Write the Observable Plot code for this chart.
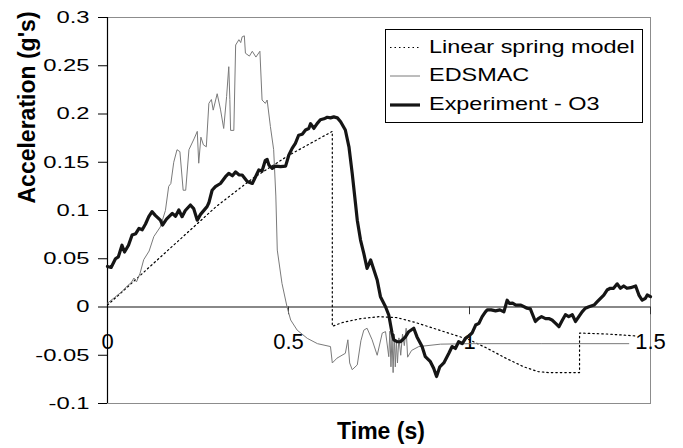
<!DOCTYPE html>
<html>
<head>
<meta charset="utf-8">
<script src="https://cdn.jsdelivr.net/npm/d3@7"></script>
<script src="https://cdn.jsdelivr.net/npm/@observablehq/plot@0.6"></script>
<style>
  body { margin: 0; background: #fff; }
  #wrap { position: relative; width: 683px; height: 448px; font-family: "Liberation Sans", Arial, sans-serif; }
  #legend { position: absolute; left: 385px; top: 29px; width: 256px; height: 92px; border: 1px solid #000; background: #fff; }
  .row { position: absolute; left: 0; height: 24px; width: 256px; }
  .row svg { position: absolute; left: 4px; top: 0; }
  .row span { position: absolute; left: 43px; top: 0; line-height: 24px; font-size: 18.6px; color: #000; white-space: nowrap; transform: scaleX(1.26); transform-origin: 0 50%; }
</style>
</head>
<body>
<div id="wrap"></div>
<script>
// ---- Data ----
const seriesNames = ["Linear spring model", "EDSMAC", "Experiment - O3"];
const xTicks = [0, 0.5, 1, 1.5];
const yTicks = [-0.1, -0.05, 0, 0.05, 0.1, 0.15, 0.2, 0.25, 0.3];

const linT = [0, 0.1, 0.2, 0.3, 0.4, 0.5, 0.621, 0.621, 0.65, 0.70, 0.75, 0.80, 0.85, 0.90, 0.95, 1.00, 1.05, 1.10, 1.15, 1.19, 1.22, 1.26, 1.304, 1.304, 1.38, 1.46];
const linV = [0.002, 0.036, 0.070, 0.104, 0.133, 0.157, 0.182, -0.020, -0.016, -0.012, -0.010, -0.011, -0.016, -0.022, -0.028, -0.034, -0.043, -0.053, -0.062, -0.067, -0.068, -0.068, -0.068, -0.027, -0.028, -0.030];

const edsT = [0, 0.02, 0.04, 0.055, 0.065, 0.073, 0.080, 0.09, 0.10, 0.115, 0.128, 0.146, 0.160, 0.169, 0.175, 0.183, 0.192, 0.200, 0.209, 0.216, 0.225, 0.240, 0.248, 0.252, 0.258, 0.265, 0.273, 0.280, 0.287, 0.292, 0.303, 0.312, 0.321, 0.329, 0.335, 0.338, 0.340, 0.349, 0.354, 0.363, 0.368, 0.372, 0.378, 0.381, 0.392, 0.400, 0.410, 0.421, 0.427, 0.436, 0.441, 0.450, 0.459, 0.465, 0.469, 0.482, 0.496, 0.506, 0.524, 0.552, 0.580, 0.616, 0.621, 0.634, 0.657, 0.664, 0.669, 0.676, 0.690, 0.700, 0.708, 0.717, 0.731, 0.745, 0.759, 0.768, 0.777, 0.780, 0.783, 0.786, 0.789, 0.792, 0.795, 0.798, 0.801, 0.805, 0.810, 0.815, 0.820, 0.825, 0.829, 0.840, 0.86, 0.92, 1.0, 1.2, 1.44];
const edsV = [0.004, 0.010, 0.016, 0.022, 0.025, 0.030, 0.026, 0.035, 0.049, 0.058, 0.073, 0.083, 0.100, 0.125, 0.128, 0.150, 0.163, 0.161, 0.121, 0.121, 0.163, 0.175, 0.182, 0.149, 0.176, 0.168, 0.166, 0.211, 0.215, 0.204, 0.221, 0.205, 0.185, 0.218, 0.249, 0.215, 0.183, 0.183, 0.2715, 0.277, 0.274, 0.280, 0.281, 0.263, 0.260, 0.265, 0.259, 0.265, 0.2145, 0.211, 0.2145, 0.187, 0.163, 0.115, 0.059, 0.0245, 0.0, -0.0135, -0.024, -0.0325, -0.038, -0.041, -0.058, -0.053, -0.048, -0.034, -0.058, -0.065, -0.060, -0.035, -0.024, -0.022, -0.034, -0.050, -0.027, -0.0255, -0.0515, -0.025, -0.062, -0.030, -0.068, -0.028, -0.062, -0.035, -0.058, -0.032, -0.050, -0.028, -0.040, -0.022, -0.052, -0.045, -0.041, -0.0385, -0.038, -0.038, -0.038];

const expT = [0, 0.01, 0.022, 0.030, 0.040, 0.047, 0.058, 0.068, 0.078, 0.087, 0.096, 0.105, 0.114, 0.123, 0.132, 0.146, 0.152, 0.163, 0.179, 0.188, 0.197, 0.206, 0.215, 0.229, 0.238, 0.248, 0.257, 0.275, 0.280, 0.289, 0.298, 0.312, 0.326, 0.335, 0.345, 0.354, 0.363, 0.372, 0.386, 0.400, 0.409, 0.418, 0.427, 0.436, 0.441, 0.446, 0.455, 0.464, 0.478, 0.492, 0.501, 0.510, 0.519, 0.528, 0.538, 0.547, 0.556, 0.561, 0.570, 0.579, 0.588, 0.598, 0.607, 0.616, 0.625, 0.635, 0.644, 0.657, 0.667, 0.676, 0.685, 0.690, 0.699, 0.708, 0.717, 0.727, 0.736, 0.745, 0.754, 0.768, 0.777, 0.786, 0.791, 0.800, 0.809, 0.815, 0.823, 0.832, 0.846, 0.855, 0.869, 0.878, 0.892, 0.901, 0.909, 0.918, 0.929, 0.943, 0.952, 0.961, 0.970, 0.980, 0.989, 0.998, 1.007, 1.017, 1.026, 1.035, 1.044, 1.049, 1.060, 1.072, 1.084, 1.095, 1.104, 1.110, 1.119, 1.128, 1.142, 1.159, 1.168, 1.182, 1.190, 1.199, 1.210, 1.219, 1.228, 1.238, 1.247, 1.256, 1.265, 1.274, 1.284, 1.293, 1.302, 1.311, 1.320, 1.330, 1.344, 1.353, 1.362, 1.371, 1.380, 1.389, 1.398, 1.408, 1.417, 1.426, 1.435, 1.445, 1.459, 1.468, 1.477, 1.486, 1.491, 1.500];
const expV = [0.042, 0.041, 0.050, 0.052, 0.064, 0.057, 0.064, 0.0746, 0.076, 0.0815, 0.080, 0.086, 0.0936, 0.0988, 0.095, 0.090, 0.085, 0.091, 0.097, 0.094, 0.1005, 0.0936, 0.100, 0.1057, 0.102, 0.090, 0.096, 0.104, 0.108, 0.121, 0.1247, 0.128, 0.135, 0.1385, 0.136, 0.140, 0.137, 0.1368, 0.130, 0.128, 0.135, 0.142, 0.141, 0.152, 0.153, 0.147, 0.1437, 0.146, 0.1454, 0.146, 0.1575, 0.1644, 0.1696, 0.178, 0.179, 0.1834, 0.185, 0.190, 0.185, 0.190, 0.194, 0.195, 0.1966, 0.196, 0.197, 0.196, 0.192, 0.1834, 0.166, 0.1385, 0.1075, 0.090, 0.0694, 0.0556, 0.040, 0.0487, 0.0383, 0.028, 0.0107, 0.0003, -0.0083, -0.027, -0.034, -0.036, -0.036, -0.034, -0.031, -0.0256, -0.022, -0.031, -0.041, -0.0515, -0.0567, -0.0635, -0.072, -0.062, -0.058, -0.048, -0.041, -0.043, -0.036, -0.038, -0.0325, -0.030, -0.027, -0.0187, -0.017, -0.010, -0.005, -0.003, -0.003, -0.004, -0.003, -0.005, 0.007, 0.0038, 0.004, 0.002, 0.002, -0.0013, -0.002, -0.015, -0.012, -0.010, -0.012, -0.012, -0.0135, -0.017, -0.0204, -0.014, -0.008, -0.010, -0.008, -0.015, -0.010, -0.005, -0.0013, 0.0003, 0.002, 0.0055, 0.009, 0.0124, 0.0176, 0.0194, 0.0194, 0.024, 0.0194, 0.0218, 0.0194, 0.020, 0.0218, 0.0124, 0.007, 0.009, 0.0124, 0.0107];

const xTitle = "Time (s)";
const yTitle = "Acceleration (g's)";

// ---- Build ----
const toRows = (T, V) => T.map((t, i) => ({t, v: V[i]}));
const lin = toRows(linT, linV);
const eds = toRows(edsT, edsV);
const exp = toRows(expT, expV);
const font = "'Liberation Sans', Arial, sans-serif";

const svg = Plot.plot({
  width: 683,
  height: 448,
  marginLeft: 107,
  marginRight: 33,
  marginTop: 17,
  marginBottom: 45,
  style: {fontFamily: font, background: "#fff", color: "#000"},
  x: {domain: [0, 1.5], axis: null},
  y: {domain: [-0.1, 0.3]},
  marks: [
    Plot.frame({stroke: "#8c8c8c"}),
    Plot.ruleY([0], {stroke: "#606060", strokeWidth: 1.5}),
    Plot.ruleX(xTicks.slice(1), {x: d => d, y1: 0, y2: -0.008, stroke: "#333"}),
    Plot.ruleX([0], {stroke: "#000", strokeWidth: 1.2}),
    Plot.axisY({ticks: yTicks, tickSize: 9, tickPadding: 9, tickFormat: d => String(d), fontSize: 17, label: null, stroke: "#000"}),
    Plot.text(xTicks, {x: d => d, y: () => 0, text: d => String(d), dy: 35, lineAnchor: "middle", fontSize: 22, fill: "#000"}),
    Plot.text([xTitle], {frameAnchor: "bottom", text: d => d, dy: 28, dx: 2, lineAnchor: "middle", fontSize: 23, fontWeight: "bold", fill: "#000"}),
    Plot.text([yTitle], {frameAnchor: "left", text: d => d, rotate: -90, dx: -79.5, dy: -7, lineAnchor: "middle", fontSize: 23, fontWeight: "bold", fill: "#000"}),
    Plot.line(lin, {x: "t", y: "v", stroke: "#000", strokeWidth: 1.2, strokeDasharray: "1.5 3"}),
    Plot.line(eds, {x: "t", y: "v", stroke: "#7a7a7a", strokeWidth: 1}),
    Plot.line(exp, {x: "t", y: "v", stroke: "#151515", strokeWidth: 3.2, strokeLinejoin: "round"})
  ]
});

// stretch y tick labels horizontally like the reference
svg.querySelectorAll('g[aria-label="y-axis tick label"] text').forEach(t => {
  const tr = t.getAttribute("transform") || "";
  t.setAttribute("transform", tr + " scale(1.4,1)");
});

const wrap = document.getElementById("wrap");
wrap.appendChild(svg);

// legend
const legend = document.createElement("div");
legend.id = "legend";
const styles = [
  {dash: "1.5 3", w: 1.2, c: "#000"},
  {dash: null, w: 1, c: "#7a7a7a"},
  {dash: null, w: 3.2, c: "#151515"}
];
const rowTops = [5, 33, 62];
seriesNames.forEach((name, i) => {
  const row = document.createElement("div");
  row.className = "row";
  row.style.top = rowTops[i] + "px";
  const s = styles[i];
  row.innerHTML = `<svg width="32" height="24"><line x1="0" x2="30" y1="${i === 0 ? 12.5 : 13}" y2="${i === 0 ? 12.5 : 13}" stroke="${s.c}" stroke-width="${s.w}" ${s.dash ? `stroke-dasharray="${s.dash}"` : ""}/></svg><span>${name}</span>`;
  legend.appendChild(row);
});
wrap.appendChild(legend);
</script>
</body>
</html>
